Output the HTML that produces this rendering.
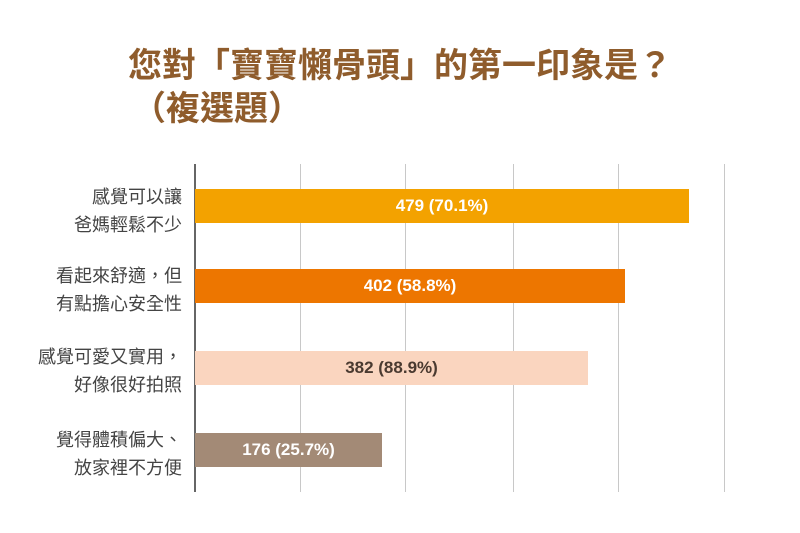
<!DOCTYPE html>
<html><head><meta charset="utf-8"><style>
body{margin:0;width:800px;height:533px;background:#fff;overflow:hidden;position:relative;font-family:"Liberation Sans","Noto Sans CJK TC",sans-serif}
.t{position:absolute;color:#8f5c2c;font-weight:bold;font-size:34px;line-height:40px;white-space:nowrap;font-family:"Liberation Sans","Noto Sans CJK TC",sans-serif}
.g{position:absolute;top:164px;height:328px;width:1px;background:#c8c8c8}
.b{position:absolute;left:195px;height:34px;font-weight:bold;font-size:17px;line-height:34px;text-align:center;color:#fff}
.l{position:absolute;right:618px;width:200px;text-align:right;font-size:18px;line-height:28px;color:#444}
</style></head><body>
<div class="t" style="left:128px;top:46px">您對「寶寶懶骨頭」的第一印象是？</div>
<div class="t" style="left:132px;top:89px">（複選題）</div>
<div class="g" style="left:300px"></div>
<div class="g" style="left:405px"></div>
<div class="g" style="left:513px"></div>
<div class="g" style="left:618px"></div>
<div class="g" style="left:724px"></div>
<div style="position:absolute;left:194px;top:164px;width:2px;height:328px;background:#666"></div>
<div class="b" style="top:189px;width:494px;background:#f3a200">479 (70.1%)</div>
<div class="b" style="top:269px;width:430px;background:#ed7600">402 (58.8%)</div>
<div class="b" style="top:351px;width:393px;background:#fad5bf;color:#4a3a30">382 (88.9%)</div>
<div class="b" style="top:433px;width:187px;background:#a38a76">176 (25.7%)</div>
<div class="l" style="top:183px">感覺可以讓<br>爸媽輕鬆不少</div>
<div class="l" style="top:262px">看起來舒適，但<br>有點擔心安全性</div>
<div class="l" style="top:343px">感覺可愛又實用，<br>好像很好拍照</div>
<div class="l" style="top:426px">覺得體積偏大、<br>放家裡不方便</div>
</body></html>
